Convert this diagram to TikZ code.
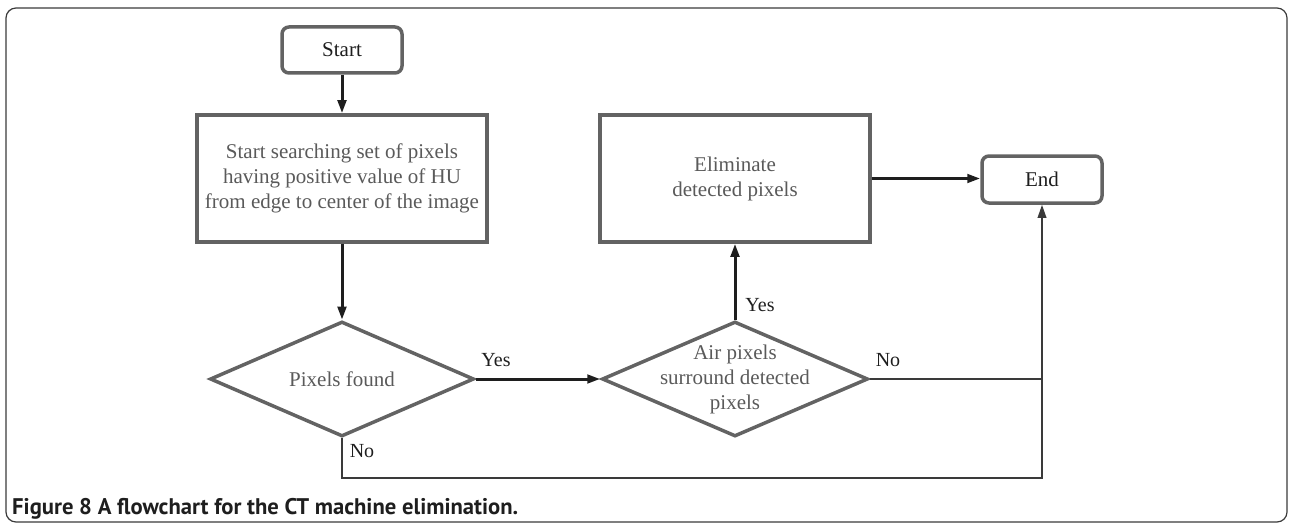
\documentclass[tikz,border=0pt]{standalone}
\usepackage{graphicx}
\usepackage{fontspec}
\setmainfont{Liberation Serif}
\newfontfamily\capfont{PT Sans}
\usetikzlibrary{shapes.geometric,arrows.meta}
\definecolor{boxgray}{HTML}{636363}
\definecolor{txtgray}{HTML}{5A5A5A}
\definecolor{ink}{HTML}{1E1E1E}
\definecolor{framec}{HTML}{3A3A3A}
\begin{document}
\begin{tikzpicture}[x=1pt,y=-1pt,
  box/.style={draw=boxgray, line width=3.5pt, fill=white, text=txtgray,
    font=\fontsize{21}{25}\selectfont, align=center, inner sep=0pt},
  term/.style={box, rounded corners=7pt, text=ink},
  decision/.style={diamond, draw=boxgray, line width=3.5pt, inner sep=0pt},
  dtext/.style={text=txtgray, font=\fontsize{21}{25}\selectfont, align=center, inner sep=0pt},
  arr/.style={draw=ink, line width=3pt, -{Triangle[length=13pt,width=8.5pt]}},
  thinarr/.style={draw=framec, line width=1.8pt, -{Triangle[length=13pt,width=8.5pt]}},
  thinline/.style={draw=framec, line width=1.8pt},
  lbl/.style={text=ink, font=\fontsize{20}{24}\selectfont, inner sep=0pt}]
\useasboundingbox (0,0) rectangle (1290,524);
\draw[framec, line width=1.2pt, rounded corners=10pt] (6,8) rectangle (1287,522);

\node[term, minimum width=120pt, minimum height=46pt] (start) at (342,50) {Start};
\node[box, minimum width=290pt, minimum height=127pt] (search) at (342,178.5)
  {Start searching set of pixels\\having positive value of HU\\from edge to center of the image};
\node[decision, minimum width=264pt, minimum height=115pt] (found) at (342,379) {};
\node[dtext] (foundtxt) at (found.center) {Pixels found};
\node[decision, minimum width=266pt, minimum height=115pt] (air) at (735,379) {};
\node[dtext] (airtxt) at (air.center) {Air pixels\\surround detected\\pixels};
\node[box, minimum width=270pt, minimum height=127pt] (elim) at (735,178.5)
  {Eliminate\\detected pixels};
\node[term, minimum width=120pt, minimum height=47pt] (end) at (1042,179.5) {End};

\coordinate (c1) at (342,478);
\coordinate (c2) at (1042,478);
\coordinate (j) at (1042,379);

\draw[arr] (start) -- (search);
\draw[arr] (search) -- (found);
\draw[arr] (found.east) -- (air.west);
\draw[arr] (air.north) -- (elim.south);
\draw[arr] (elim.east) -- (elim.east -| end.west);
\draw[thinline] (air.east) -- (j);
\draw[thinarr] (found.south) -- (c1) -- (c2) -- (end.south);

\node[lbl] (yes1) at (496,360) {Yes};
\node[lbl] (yes2) at (760,305) {Yes};
\node[lbl] (no1) at (888,360) {No};
\node[lbl] (no2) at (362,451) {No};

\node[anchor=base west, inner sep=0pt, text=ink] (cap) at (12,514)
  {\resizebox{506pt}{!}{\capfont\bfseries Figure 8 A flowchart for the CT machine elimination.}};
\end{tikzpicture}
\end{document}
